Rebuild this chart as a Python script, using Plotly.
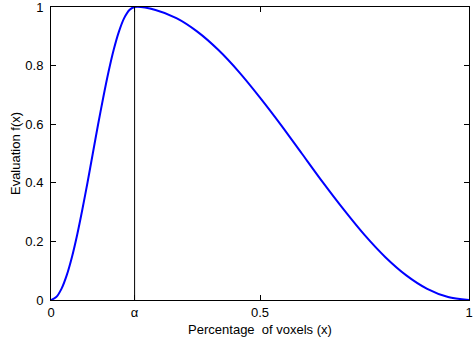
import plotly.graph_objects as go

# Values
alpha = 0.2
x_vals = [0.0, 0.0125, 0.025, 0.0375, 0.05, 0.0625, 0.075, 0.0875, 0.1,
          0.1125, 0.125, 0.1375, 0.15, 0.1625, 0.175, 0.1875, 0.2,
          0.25, 0.3, 0.35, 0.4, 0.45, 0.5, 0.55, 0.6, 0.65, 0.7,
          0.75, 0.8, 0.85, 0.9, 0.95, 1.0]
f_vals = [0.0, 0.010, 0.038, 0.084, 0.146, 0.222, 0.309, 0.402, 0.5,
          0.598, 0.691, 0.778, 0.854, 0.916, 0.962, 0.990, 1.0,
          0.990, 0.962, 0.916, 0.854, 0.778, 0.691, 0.598, 0.5, 0.402, 0.309,
          0.222, 0.146, 0.084, 0.038, 0.010, 0.0]
x_tick_vals = [0, alpha, 0.5, 1]
x_tick_text = ["0", "α", "0.5", "1"]
y_tick_vals = [0, 0.2, 0.4, 0.6, 0.8, 1]
y_tick_text = ["0", "0.2", "0.4", "0.6", "0.8", "1"]

fig = go.Figure()
fig.add_trace(go.Scatter(x=[alpha, alpha], y=[0, 1], mode="lines",
                         line=dict(color="#000000", width=1), showlegend=False,
                         hoverinfo="skip"))
fig.add_trace(go.Scatter(x=x_vals, y=f_vals, mode="lines",
                         line=dict(color="#0000FF", width=2, shape="spline", smoothing=0.8),
                         showlegend=False))

font = dict(family="Liberation Sans, Arial, sans-serif", size=13, color="#000000")
axis_common = dict(showline=True, linecolor="#000000", linewidth=1, mirror="ticks",
                   ticks="inside", ticklen=5, tickcolor="#000000", tickwidth=1,
                   showgrid=False, zeroline=False, tickfont=font, automargin=False,
                   ticklabeloverflow="allow")

fig.update_layout(
    width=474, height=345,
    margin=dict(l=51, r=5, t=7, b=45),
    paper_bgcolor="#FFFFFF", plot_bgcolor="#FFFFFF",
    font=font,
    xaxis=dict(range=[0, 1], tickvals=x_tick_vals, ticktext=x_tick_text,
               title=dict(text="Percentage\u00a0 of voxels (x)", font=font, standoff=6),
               **axis_common),
    yaxis=dict(range=[0, 1], tickvals=y_tick_vals, ticktext=y_tick_text,
               title=dict(text="Evaluation f(x)", font=font, standoff=1),
               ticklabelstandoff=4,
               **axis_common),
)

fig.write_html("out.html", config={"displayModeBar": False},
               post_script="document.body.style.margin='0';")
